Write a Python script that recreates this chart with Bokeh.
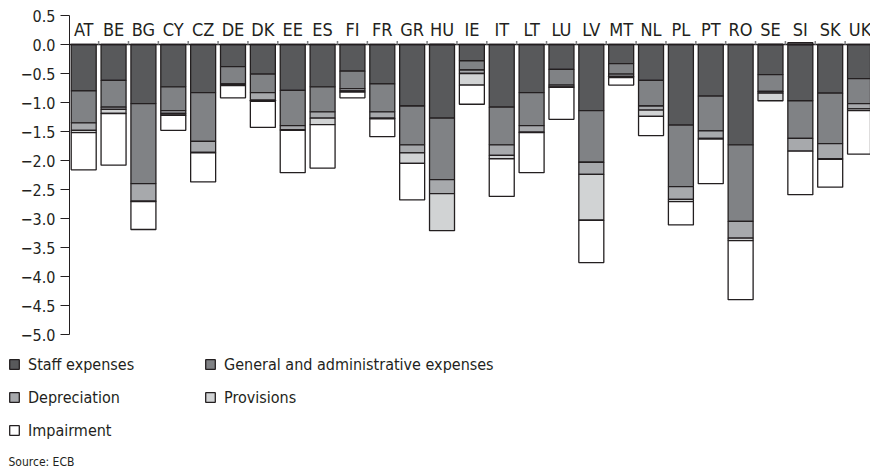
import numpy as np
from bokeh.plotting import figure
from bokeh.models import ColumnDataSource, Range1d, Legend, LegendItem, Label
from bokeh.core.properties import value
from bokeh.embed import file_html
from bokeh.resources import INLINE

countries = ["AT", "BE", "BG", "CY", "CZ", "DE", "DK", "EE", "ES", "FI", "FR", "GR", "HU", "IE",
             "IT", "LT", "LU", "LV", "MT", "NL", "PL", "PT", "RO", "SE", "SI", "SK", "UK"]

staff = [-0.80, -0.62, -1.02, -0.73, -0.83, -0.38, -0.51, -0.79, -0.73, -0.46, -0.68, -1.06, -1.27, -0.28,
         -1.08, -0.83, -0.43, -1.14, -0.33, -0.62, -1.39, -0.89, -1.73, -0.52, -0.97, -0.84, -0.59]
general_admin = [-0.55, -0.46, -1.38, -0.41, -0.84, -0.30, -0.32, -0.61, -0.43, -0.30, -0.48, -0.67, -1.06, -0.16,
                 -0.65, -0.57, -0.27, -0.89, -0.18, -0.44, -1.06, -0.60, -1.32, -0.29, -0.65, -0.87, -0.43]
depreciation = [-0.13, -0.04, -0.30, -0.05, -0.19, -0.02, -0.13, -0.07, -0.11, -0.04, -0.11, -0.14, -0.24, -0.06,
                -0.18, -0.11, -0.03, -0.21, -0.04, -0.07, -0.22, -0.13, -0.29, -0.03, -0.22, -0.26, -0.09]
provisions = [-0.04, -0.07, -0.01, -0.03, -0.01, -0.01, -0.02, -0.01, -0.11, -0.02, -0.01, -0.18, -0.64, -0.20,
              -0.06, -0.01, -0.01, -0.79, -0.02, -0.11, -0.04, -0.01, -0.04, -0.13, 0.03, -0.01, -0.03]
impairment = [-0.64, -0.89, -0.48, -0.26, -0.50, -0.21, -0.45, -0.73, -0.75, -0.10, -0.31, -0.63, 0.0, -0.33,
              -0.65, -0.69, -0.55, -0.73, -0.13, -0.33, -0.40, -0.77, -1.02, 0.0, -0.75, -0.48, -0.75]

series_names = ["Staff expenses", "General and administrative expenses", "Depreciation",
                "Provisions", "Impairment"]
series_values = [staff, general_admin, depreciation, provisions, impairment]
colors = ["#58595b", "#808285", "#a7a9ac", "#d1d3d4", "#ffffff"]

y_ticks = [0.5, 0.0, -0.5, -1.0, -1.5, -2.0, -2.5, -3.0, -3.5, -4.0, -4.5, -5.0]
y_tick_labels = [("\u2212" if t < 0 else "") + f"{abs(t):.1f}" for t in y_ticks]

FONT = "DejaVu Sans Condensed"
INK = "#231f20"

# Layout geometry (pixels): category pitch, value scale
PITCH = 29.86          # px per category
FIRST_X = 83.2         # px of first category centre
SCALE = 58.0           # px per unit
TOP_PX = 15.0          # px of value 0.5
W, H = 870, 473
AXIS_PX = 69.0

x_start = -FIRST_X / PITCH
x_end = (W - FIRST_X) / PITCH
y_end = 0.5 + TOP_PX / SCALE
y_start = 0.5 - (H - TOP_PX) / SCALE
axis_x = (AXIS_PX - FIRST_X) / PITCH
tick_len = 9.0 / PITCH
label_x = (AXIS_PX - 14.0 - FIRST_X) / PITCH

p = figure(width=W, height=H,
           x_range=Range1d(x_start, x_end), y_range=Range1d(y_start, y_end),
           output_backend="svg", toolbar_location=None,
           x_axis_location=None, y_axis_location=None,
           min_border_left=0, min_border_right=0, min_border_top=0, min_border_bottom=0)
p.outline_line_color = None
p.grid.visible = False
p.background_fill_color = "white"
p.border_fill_color = "white"

# bars
x = np.arange(len(countries))
neg = np.zeros(len(countries))
pos = np.zeros(len(countries))
renderers = []
for name, vals, col in zip(series_names, series_values, colors):
    v = np.array(vals, dtype=float)
    bottom = np.where(v < 0, neg + v, pos)
    top = np.where(v < 0, neg, pos + v)
    neg = np.where(v < 0, neg + v, neg)
    pos = np.where(v > 0, pos + v, pos)
    src = ColumnDataSource(dict(x=x, top=top, bottom=bottom))
    r = p.vbar(x="x", top="top", bottom="bottom", width=0.837, source=src,
               fill_color=col, line_color=INK, line_width=1.3)
    renderers.append(r)

# value axis (line, ticks, labels)
p.segment(x0=[axis_x], y0=[min(y_ticks)], x1=[axis_x], y1=[max(y_ticks)], line_color=INK, line_width=1)
p.segment(x0=np.full(len(y_ticks), axis_x - tick_len), y0=y_ticks,
          x1=np.full(len(y_ticks), axis_x), y1=y_ticks, line_color=INK, line_width=1)
ytl = ColumnDataSource(dict(x=np.full(len(y_ticks), label_x), y=y_ticks, t=y_tick_labels))
p.text(x="x", y="y", text="t", source=ytl, text_align="right", text_baseline="middle",
       text_font=value(FONT), text_font_size="16px", text_color=INK)

# zero line and category boundary ticks
p.segment(x0=[axis_x], y0=[0], x1=[x_end], y1=[0], line_color=INK, line_width=1.5)
bx = x[:-1] + 0.5
p.segment(x0=bx, y0=np.zeros(len(bx)), x1=bx, y1=np.full(len(bx), 0.06),
          line_color="#808285", line_width=1.5)

# category labels above the zero line
lab_src = ColumnDataSource(dict(x=x, y=np.full(len(x), 0.255), t=countries))
p.text(x="x", y="y", text="t", source=lab_src, text_align="center", text_baseline="middle",
       text_font=value(FONT), text_font_size="18px", text_color=INK)

# legend in two columns
legend_common = dict(padding=0, margin=0, border_line_color=None, background_fill_alpha=0,
                     glyph_width=12, glyph_height=12, label_height=20, spacing=13,
                     label_standoff=8, label_text_font=FONT, label_text_font_size="16px",
                     label_text_color=INK)
leg1 = Legend(items=[LegendItem(label=series_names[i], renderers=[renderers[i]]) for i in (0, 2, 4)],
              location=(8, 33), **legend_common)
leg2 = Legend(items=[LegendItem(label=series_names[i], renderers=[renderers[i]]) for i in (1, 3)],
              location=(204, 66), **legend_common)
p.add_layout(leg1, "center")
p.add_layout(leg2, "center")

p.add_layout(Label(x=8, y=12, x_units="screen", y_units="screen", text="Source: ECB",
                   text_font=FONT, text_font_size="12px", text_color=INK, text_baseline="middle"))

open("out.html", "w").write(file_html(p, INLINE))
